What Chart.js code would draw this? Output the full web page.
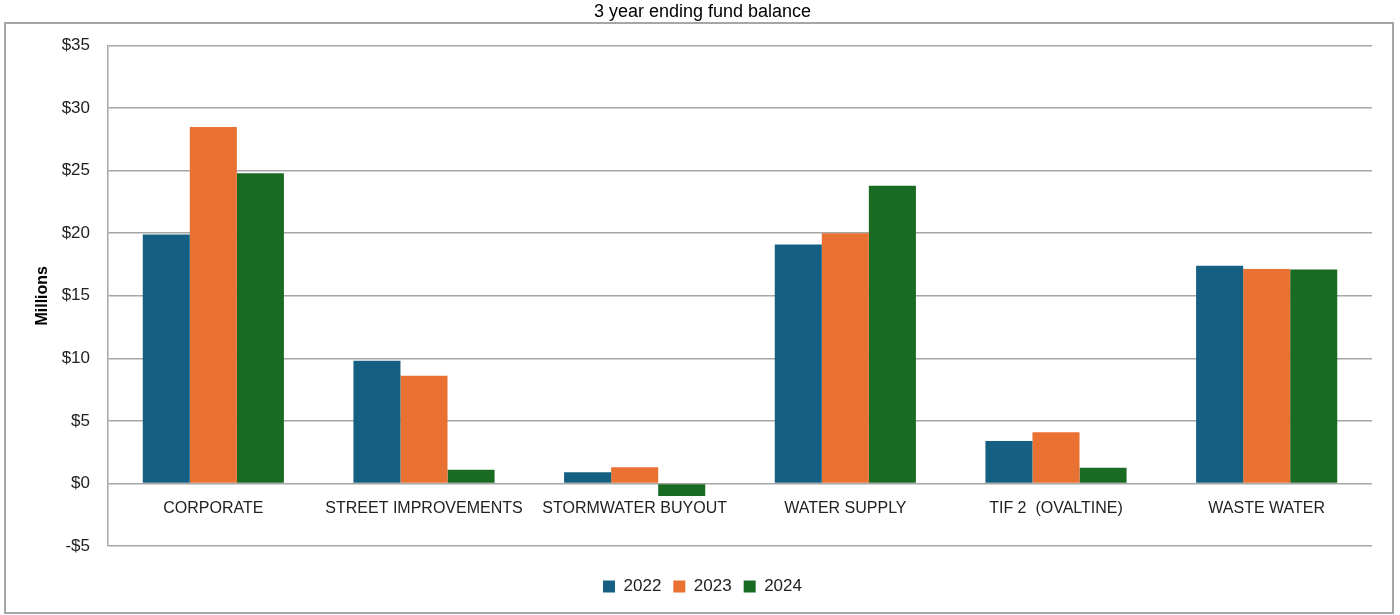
<!DOCTYPE html>
<html>
<head>
<meta charset="utf-8">
<script src="https://cdn.jsdelivr.net/npm/chart.js@4.4.1/dist/chart.umd.min.js"></script>
<style>
  html, body { margin: 0; padding: 0; background: #fff; }
  #wrap { width: 1400px; height: 615px; }
</style>
</head>
<body>
<div id="wrap"><canvas id="myChart" width="1400" height="615"></canvas></div>
<script>
// fund categories and ending balances (millions)
const categories = ['CORPORATE', 'STREET IMPROVEMENTS', 'STORMWATER BUYOUT', 'WATER SUPPLY', 'TIF 2  (OVALTINE)', 'WASTE WATER']
const years = ['2022', '2023', '2024']
const bal2022 = [19.9, 9.8, 0.9, 19.1, 3.4, 17.4]
const bal2023 = [28.5, 8.6, 1.3, 20.0, 4.1, 17.15]
const bal2024 = [24.8, 1.1, -1.0, 23.8, 1.25, 17.1]
const yTicks = [-5, 0, 5, 10, 15, 20, 25, 30, 35]

const colors = ['#156082', '#E97132', '#196B24']
const gridGray = '#a6a6a6'
const fontFam = '"Liberation Sans", Arial, sans-serif'

// gray frame around the plot like the excel chart
const frame = {
  id: 'frame',
  beforeDraw(chart) {
    const c = chart.ctx
    c.save()
    c.strokeStyle = gridGray
    c.lineWidth = 2
    c.strokeRect(5, 23, 1388, 590)
    c.restore()
  }
}

const ctx = document.getElementById('myChart').getContext('2d')
const myChart = new Chart(ctx, {
  type: 'bar',
  data: {
    labels: categories,
    datasets: [
      { label: years[0], data: bal2022, backgroundColor: colors[0] },
      { label: years[1], data: bal2023, backgroundColor: colors[1] },
      { label: years[2], data: bal2024, backgroundColor: colors[2] }
    ]
  },
  options: {
    responsive: false,
    animation: false,
    datasets: {
      bar: { categoryPercentage: 0.67, barPercentage: 1.0, borderWidth: 0 }
    },
    layout: { padding: { left: 33, right: 28, top: 0, bottom: 10 } },
    plugins: {
      title: {
        display: true,
        text: '3 year ending fund balance',
        color: '#000',
        font: { family: fontFam, size: 18, weight: 'normal' },
        padding: { top: 1, bottom: 23 }
      },
      legend: {
        position: 'bottom',
        // empty title only used as a spacer above the items
        title: { display: true, text: '', font: { size: 10 }, padding: 4 },
        labels: {
          color: '#222',
          font: { family: fontFam, size: 17 },
          boxWidth: 12,
          boxHeight: 12,
          padding: 12
        }
      },
      tooltip: { enabled: false }
    },
    scales: {
      x: {
        position: { y: 0 },
        grid: { display: false, drawTicks: false },
        border: { display: false },
        ticks: {
          color: '#222',
          font: { family: fontFam, size: 16 },
          padding: 16,
          maxRotation: 0,
          autoSkip: false
        }
      },
      y: {
        min: -5,
        max: 35,
        afterBuildTicks(axis) { axis.ticks = yTicks.map(v => ({ value: v })) },
        afterFit(axis) { axis.width = 75 },
        grid: { color: gridGray, lineWidth: 1.5, drawTicks: false },
        border: { color: gridGray, width: 1.5 },
        title: {
          display: true,
          text: 'Millions',
          color: '#000',
          font: { family: fontFam, size: 16, weight: 'bold' },
          padding: 0
        },
        ticks: {
          color: '#222',
          font: { family: fontFam, size: 17 },
          padding: 18,
          callback: v => (v < 0 ? '-$' + Math.abs(v) : '$' + v)
        }
      }
    }
  },
  plugins: [frame]
})
</script>
</body>
</html>
